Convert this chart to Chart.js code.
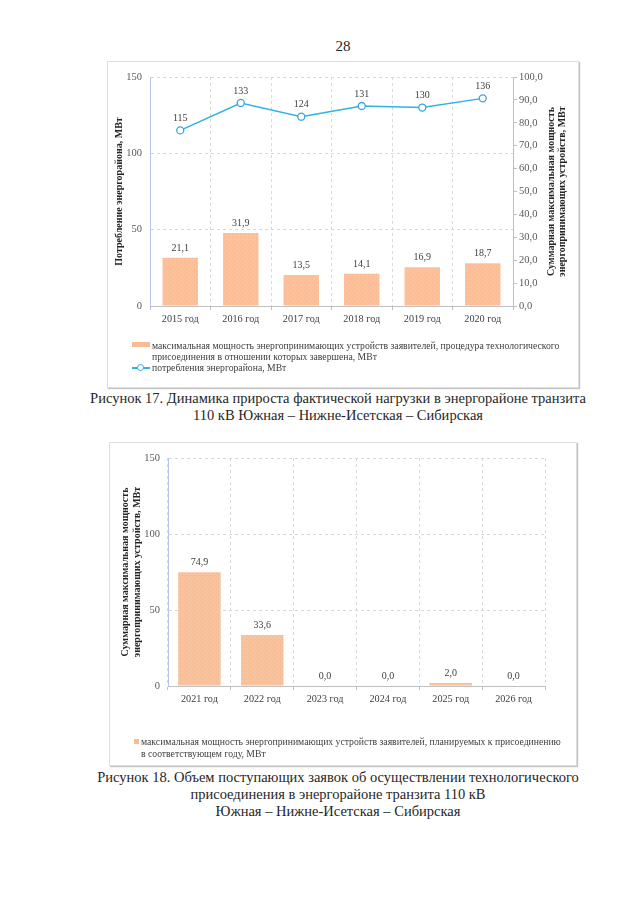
<!DOCTYPE html>
<html lang="ru">
<head>
<meta charset="UTF-8" />
<title>Рисунок 17-18</title>
<script src="https://cdn.jsdelivr.net/npm/chart.js"></script>
<style>
  body { margin: 0; width: 640px; height: 905px; background: #fff; position: relative;
         font-family: "Liberation Serif", serif; color: #222; overflow: hidden; }
  .frame { position: absolute; border: 1px solid #dedede; box-shadow: 1px 1px 1px #c4c4c4; background: #fff; }
  .frame .box { position: absolute; left: 0; top: 0; }
  .legend { position: absolute; font-size: 9.7px; color: #404040; line-height: 11px; }
  .legend .row { position: relative; padding-left: 20px; }
  .sw-bar { position: absolute; left: 0; top: 2px; width: 18px; height: 5px; background: #f7bc94; }
  .sw-line { position: absolute; left: 0; top: 5px; width: 18px; height: 1.5px; background: #2fb2e6; }
  .sw-line:after { content: ""; position: absolute; left: 5px; top: -3.5px; width: 5px; height: 5px;
                   border: 1.3px solid #3aa5e0; border-radius: 50%; background: #fff; }
  .sw-sq { position: absolute; left: 0; top: 3px; width: 5px; height: 5px; background: #f7bc94; }
  .caption { position: absolute; left: 0; width: 676px; text-align: center; font-size: 14.5px; line-height: 17px; color: #262626; }
</style>
</head>
<body>
  <div class="caption" style="top:38px; width:686px; font-size:15px;">28</div>

  <div class="frame" style="left:107px; top:61px; width:470px; height:325px;">
    <div class="box" style="width:470px; height:325px;"><canvas id="chart1"></canvas></div>
  </div>
  <div class="legend" id="legend1" style="left:132px; top:340px;"></div>
  <div class="caption" style="top:390px;">Рисунок 17. Динамика прироста фактической нагрузки в энергорайоне транзита<br>110 кВ Южная – Нижне-Исетская – Сибирская</div>

  <div class="frame" style="left:109px; top:442px; width:466px; height:322px;">
    <div class="box" style="width:466px; height:322px;"><canvas id="chart2"></canvas></div>
  </div>
  <div class="legend" id="legend2" style="left:134px; top:736px; line-height:12.3px;"></div>
  <div class="caption" style="top:769px;">Рисунок 18. Объем поступающих заявок об осуществлении технологического<br>присоединения в энергорайоне транзита 110 кВ<br>Южная – Нижне-Исетская – Сибирская</div>

<script>
  // --- данные рисунка 17 ---
  const years1 = ["2015 год", "2016 год", "2017 год", "2018 год", "2019 год", "2020 год"];
  const consumption = [115, 133, 124, 131, 130, 136];
  const connectedPower = [21.1, 31.9, 13.5, 14.1, 16.9, 18.7];
  const leftTicks1 = [0, 50, 100, 150];
  const rightTicks1 = [0, 10, 20, 30, 40, 50, 60, 70, 80, 90, 100];
  const barLabel1 = ["максимальная мощность энергопринимающих устройств заявителей, процедура технологического",
                     "присоединения в отношении которых завершена, МВт"];
  const lineLabel1 = ["потребления энергорайона, МВт"];
  const leftTitle1 = ["Потребление энергорайона, МВт"];
  const rightTitle1 = ["Суммарная максимальная мощность", "энергопринимающих устройств, МВт"];

  // --- данные рисунка 18 ---
  const years2 = ["2021 год", "2022 год", "2023 год", "2024 год", "2025 год", "2026 год"];
  const plannedPower = [74.9, 33.6, 0.0, 0.0, 2.0, 0.0];
  const leftTicks2 = [0, 50, 100, 150];
  const barLabel2 = ["максимальная мощность энергопринимающих устройств заявителей, планируемых  к присоединению",
                     "в соответствующем году, МВт"];
  const leftTitle2 = ["Суммарная максимальная мощность", "энергопринимающих устройств, МВт"];

  Chart.defaults.font.family = "'Liberation Serif', serif";
  Chart.defaults.font.size = 10;
  Chart.defaults.color = "#595959";

  const comma = (v) => v.toFixed(1).replace(".", ",");

  // мелкая штриховка столбцов как в excel
  function hatch() {
    const c = document.createElement("canvas");
    c.width = 4; c.height = 4;
    const g = c.getContext("2d");
    g.fillStyle = "#f9c39d";
    g.fillRect(0, 0, 4, 4);
    g.fillStyle = "#f5b189";
    g.fillRect(0, 0, 1, 1);
    g.fillRect(2, 2, 1, 1);
    return g.createPattern(c, "repeat");
  }

  // подписи значений над столбцами и точками
  const valueLabels = {
    id: "valueLabels",
    afterDatasetsDraw(chart) {
      const ctx = chart.ctx;
      ctx.save();
      ctx.font = "10px 'Liberation Serif', serif";
      ctx.fillStyle = "#404040";
      ctx.textAlign = "center";
      ctx.textBaseline = "middle";
      chart.data.datasets.forEach((ds, i) => {
        const meta = chart.getDatasetMeta(i);
        meta.data.forEach((el, j) => {
          const v = ds.data[j];
          const txt = ds.type === "line" ? String(v) : comma(v);
          const dy = ds.type === "line" ? 12 : 9.5;
          ctx.fillText(txt, el.x, el.y - dy);
        });
      });
      ctx.restore();
    },
  };

  // повернутые подписи осей (обе читаются снизу вверх)
  const axisTitles = {
    id: "axisTitles",
    afterDraw(chart, args, opts) {
      const ctx = chart.ctx;
      const a = chart.chartArea;
      ctx.save();
      ctx.font = "bold 10px 'Liberation Serif', serif";
      ctx.fillStyle = "#262626";
      ctx.textAlign = "center";
      ctx.textBaseline = "middle";
      (opts.items || []).forEach((t) => {
        const x = t.side === "left" ? a.left + t.dx : a.right + t.dx;
        const y = (a.top + a.bottom) / 2;
        ctx.save();
        ctx.translate(x, y);
        ctx.rotate(-Math.PI / 2);
        const n = t.lines.length;
        t.lines.forEach((line, k) => {
          ctx.fillText(line, 0, (k - (n - 1) / 2) * 11.5);
        });
        ctx.restore();
      });
      ctx.restore();
    },
  };

  const gridColor = "#d9d9d9";
  const axisGray = "#bfbfbf";
  const axisBlue = "#b4c7e7";

  function xScale(height) {
    return {
      offset: true,
      grid: { offset: true, color: gridColor, tickLength: 4, tickColor: axisGray, tickBorderDash: [] },
      border: { color: axisGray, dash: [3, 3] },
      ticks: { color: "#404040", padding: 3, font: { size: 10.2 } },
      afterFit(s) { s.height = height; },
    };
  }

  function fixedTicks(list) {
    return function (s) { s.ticks = list.map((v) => ({ value: v })); };
  }

  // ---------- Рисунок 17 ----------
  const chart1 = new Chart(document.getElementById("chart1"), {
    data: {
      labels: years1,
      datasets: [
        {
          type: "line",
          label: lineLabel1.join(" "),
          data: consumption,
          yAxisID: "y",
          borderColor: "#2fb2e6",
          borderWidth: 1.5,
          pointRadius: 3.5,
          pointBorderWidth: 1.3,
          pointBackgroundColor: "#fff",
          pointBorderColor: "#3aa5e0",
          tension: 0,
          order: 0,
        },
        {
          type: "bar",
          label: barLabel1.join(" "),
          data: connectedPower,
          yAxisID: "y1",
          backgroundColor: hatch(),
          categoryPercentage: 1,
          barPercentage: 0.586,
          order: 1,
        },
      ],
    },
    options: {
      responsive: true,
      maintainAspectRatio: false,
      animation: false,
      layout: { padding: { top: 15, left: 0, right: 0, bottom: 0 } },
      plugins: {
        legend: { display: false },
        tooltip: { enabled: false },
        axisTitles: {
          items: [
            { side: "left", dx: -31, lines: leftTitle1 },
            { side: "right", dx: 44, lines: rightTitle1 },
          ],
        },
      },
      scales: {
        x: xScale(81),
        y: {
          position: "left",
          min: 0, max: 150,
          afterBuildTicks: fixedTicks(leftTicks1),
          grid: { color: gridColor, drawTicks: false },
          border: { color: axisBlue, dash: [3, 3] },
          ticks: { padding: 8, font: { size: 10.5 } },
          afterFit(s) { s.width = 42; },
        },
        y1: {
          position: "right",
          min: 0, max: 100,
          afterBuildTicks: fixedTicks(rightTicks1),
          grid: { drawOnChartArea: false, tickLength: 4, tickColor: axisGray },
          border: { color: axisGray },
          ticks: { padding: 2, font: { size: 10.5 }, callback: (v) => comma(v) },
          afterFit(s) { s.width = 65; },
        },
      },
    },
    plugins: [valueLabels, axisTitles],
  });

  // ---------- Рисунок 18 ----------
  const chart2 = new Chart(document.getElementById("chart2"), {
    type: "bar",
    data: {
      labels: years2,
      datasets: [
        {
          label: barLabel2.join(" "),
          data: plannedPower,
          backgroundColor: hatch(),
          categoryPercentage: 1,
          barPercentage: 0.675,
        },
      ],
    },
    options: {
      responsive: true,
      maintainAspectRatio: false,
      animation: false,
      layout: { padding: { top: 15, left: 0, right: 31, bottom: 0 } },
      plugins: {
        legend: { display: false },
        tooltip: { enabled: false },
        axisTitles: { items: [{ side: "left", dx: -36.5, lines: leftTitle2 }] },
      },
      scales: {
        x: xScale(79),
        y: {
          min: 0, max: 150,
          afterBuildTicks: fixedTicks(leftTicks2),
          grid: { color: gridColor, drawTicks: false },
          border: { color: axisBlue, dash: [3, 3] },
          ticks: { padding: 8, font: { size: 10.5 } },
          afterFit(s) { s.width = 58; },
        },
      },
    },
    plugins: [valueLabels, axisTitles],
  });

  // легенды html, чтобы длинный текст переносился как в оригинале
  document.getElementById("legend1").innerHTML =
    '<div class="row"><span class="sw-bar"></span>' + barLabel1.join("<br>") + "</div>" +
    '<div class="row"><span class="sw-line"></span>' + lineLabel1.join("<br>") + "</div>";
  document.getElementById("legend2").innerHTML =
    '<div class="row" style="padding-left:7px"><span class="sw-sq"></span>' + barLabel2.join("<br>") + "</div>";
</script>
</body>
</html>
